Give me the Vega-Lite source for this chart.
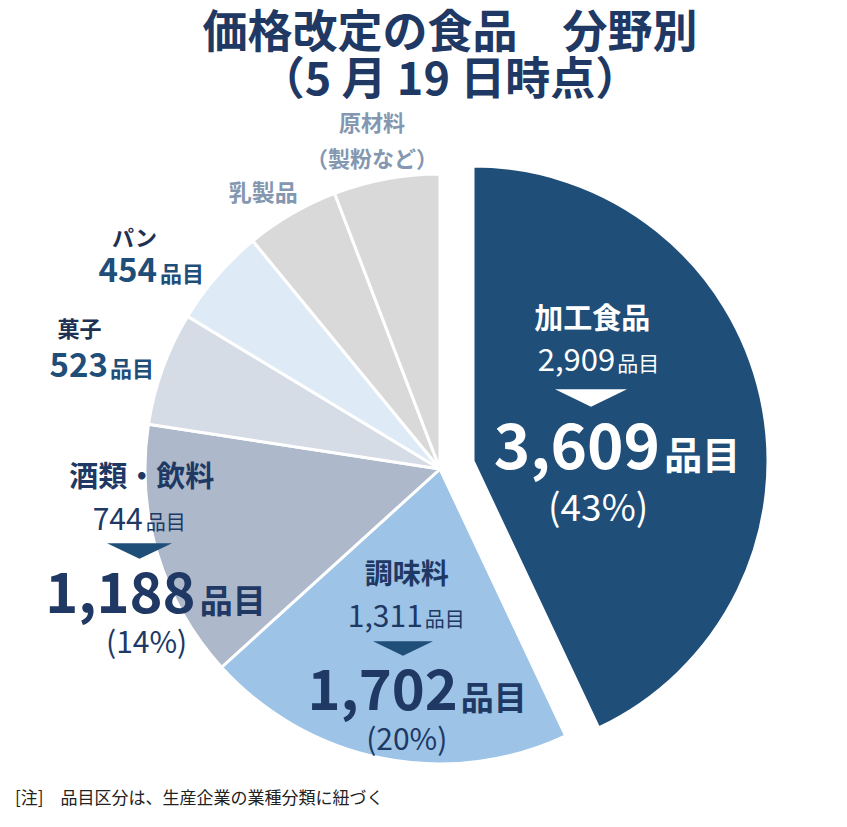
{
  "$schema": "https://vega.github.io/schema/vega-lite/v6.json",
  "padding": {"left": 15, "top": 12, "right": 0, "bottom": 3},
  "background": "white",
  "config": {"view": {"stroke": null}, "text": {"font": "Noto Sans CJK JP"}},
  "title": {
    "text": ["価格改定の食品　分野別", "（5 月 19 日時点）"],
    "font": "Noto Sans CJK JP", "fontSize": 45, "fontWeight": "bold", "color": "#203864",
    "anchor": "middle", "frame": "group", "dx": 10, "offset": 9, "lineHeight": 47
  },
  "vconcat": [
    {
      "title": {
        "text": "[注]　品目区分は、生産企業の業種分類に紐づく",
        "orient": "bottom", "anchor": "start", "frame": "group",
        "font": "Noto Sans CJK JP", "fontSize": 17, "fontWeight": "normal", "color": "#222222",
        "dx": -18, "offset": 9
      },
      "width": 814,
      "height": 626,
      "data": {
        "values": [
          {"i": 1, "cat": "加工食品", "count": 3609, "prev": 2909, "pct": "(43%)"},
          {"i": 2, "cat": "調味料", "count": 1702, "prev": 1311, "pct": "(20%)"},
          {"i": 3, "cat": "酒類・飲料", "count": 1188, "prev": 744, "pct": "(14%)"},
          {"i": 4, "cat": "菓子", "count": 523},
          {"i": 5, "cat": "パン", "count": 454},
          {"i": 6, "cat": "乳製品", "count": 430},
          {"i": 7, "cat": "原材料", "count": 488, "note": "（製粉など）"}
        ]
      },
      "layer": [
        {
          "mark": {"type": "arc", "outerRadius": 295, "stroke": "white", "strokeWidth": 3},
          "encoding": {
            "theta": {"field": "count", "type": "quantitative", "stack": true},
            "order": {"field": "i", "type": "quantitative"},
            "color": {"field": "cat", "type": "nominal", "legend": null,
              "scale": {"domain": ["加工食品", "調味料", "酒類・飲料", "菓子", "パン", "乳製品", "原材料"],
                "range": ["#1f4e79", "#9dc3e6", "#adb9ca", "#d6dce5", "#deebf7", "#d9d9d9", "#d9d9d9"]}},
            "opacity": {"condition": {"test": "datum.i === 1", "value": 0}, "value": 1}
          }
        },
        {
          "mark": {"type": "arc", "outerRadius": 295, "stroke": "white", "strokeWidth": 3, "xOffset": 33, "yOffset": -8},
          "encoding": {
            "theta": {"field": "count", "type": "quantitative", "stack": true},
            "order": {"field": "i", "type": "quantitative"},
            "color": {"field": "cat", "type": "nominal", "legend": null},
            "opacity": {"condition": {"test": "datum.i === 1", "value": 1}, "value": 0}
          }
        },
        {
          "encoding": {
            "theta": {"field": "count", "type": "quantitative", "stack": true},
            "order": {"field": "i", "type": "quantitative"},
            "detail": {"field": "cat", "type": "nominal"}
          },
          "layer": [
            {"mark": {"type": "text", "radius": 160, "dx": -4, "dy": -114, "fontSize": 29, "fontWeight": "bold", "color": "white", "align": "center", "baseline": "middle"},
             "encoding": {"text": {"condition": {"test": "datum.i === 1", "field": "cat", "type": "nominal"}, "value": ""}}},
            {"mark": {"type": "text", "radius": 160, "dx": 19, "dy": -63, "fontSize": 31, "color": "white", "align": "right", "baseline": "alphabetic"},
             "encoding": {"text": {"condition": {"test": "datum.i === 1", "field": "prev", "type": "quantitative", "format": ","}, "value": ""}}},
            {"mark": {"type": "text", "radius": 160, "dx": 21, "dy": -63, "fontSize": 21, "color": "white", "align": "left", "baseline": "alphabetic"},
             "encoding": {"text": {"condition": {"test": "datum.i === 1", "value": "品目"}, "value": ""}}},
            {"mark": {"type": "text", "radius": 160, "dx": 64, "dy": 35, "fontSize": 62, "fontWeight": "bold", "color": "white", "align": "right", "baseline": "alphabetic"},
             "encoding": {"text": {"condition": {"test": "datum.i === 1", "field": "count", "type": "quantitative", "format": ","}, "value": ""}}},
            {"mark": {"type": "text", "radius": 160, "dx": 68, "dy": 35, "fontSize": 38, "fontWeight": "bold", "color": "white", "align": "left", "baseline": "alphabetic"},
             "encoding": {"text": {"condition": {"test": "datum.i === 1", "value": "品目"}, "value": ""}}},
            {"mark": {"type": "text", "radius": 160, "dx": 2, "dy": 76, "fontSize": 37, "color": "white", "align": "center", "baseline": "middle"},
             "encoding": {"text": {"condition": {"test": "datum.i === 1", "field": "pct", "type": "nominal"}, "value": ""}}},

            {"mark": {"type": "text", "radius": 180, "dx": 2, "dy": -70, "fontSize": 28, "fontWeight": "bold", "color": "#203864", "align": "center", "baseline": "middle"},
             "encoding": {"text": {"condition": {"test": "datum.i === 2", "field": "cat", "type": "nominal"}, "value": ""}}},
            {"mark": {"type": "text", "radius": 180, "dx": 18, "dy": -18.5, "fontSize": 30, "color": "#203864", "align": "right", "baseline": "alphabetic"},
             "encoding": {"text": {"condition": {"test": "datum.i === 2", "field": "prev", "type": "quantitative", "format": ","}, "value": ""}}},
            {"mark": {"type": "text", "radius": 180, "dx": 20, "dy": -18.5, "fontSize": 20, "color": "#203864", "align": "left", "baseline": "alphabetic"},
             "encoding": {"text": {"condition": {"test": "datum.i === 2", "value": "品目"}, "value": ""}}},
            {"mark": {"type": "text", "radius": 180, "dx": 53, "dy": 64.5, "fontSize": 56, "fontWeight": "bold", "color": "#203864", "align": "right", "baseline": "alphabetic"},
             "encoding": {"text": {"condition": {"test": "datum.i === 2", "field": "count", "type": "quantitative", "format": ","}, "value": ""}}},
            {"mark": {"type": "text", "radius": 180, "dx": 56, "dy": 64.5, "fontSize": 33, "fontWeight": "bold", "color": "#203864", "align": "left", "baseline": "alphabetic"},
             "encoding": {"text": {"condition": {"test": "datum.i === 2", "value": "品目"}, "value": ""}}},
            {"mark": {"type": "text", "radius": 180, "dx": 2, "dy": 95, "fontSize": 30, "color": "#203864", "align": "center", "baseline": "middle"},
             "encoding": {"text": {"condition": {"test": "datum.i === 2", "field": "pct", "type": "nominal"}, "value": ""}}},

            {"mark": {"type": "text", "radius": 150, "dx": -154.7, "dy": -34.2, "fontSize": 29, "fontWeight": "bold", "color": "#203864", "align": "center", "baseline": "middle"},
             "encoding": {"text": {"condition": {"test": "datum.i === 3", "field": "cat", "type": "nominal"}, "value": ""}}},
            {"mark": {"type": "text", "radius": 150, "dx": -153.7, "dy": 17.8, "fontSize": 30, "color": "#203864", "align": "right", "baseline": "alphabetic"},
             "encoding": {"text": {"condition": {"test": "datum.i === 3", "field": "prev", "type": "quantitative", "format": ","}, "value": ""}}},
            {"mark": {"type": "text", "radius": 150, "dx": -150.7, "dy": 17.8, "fontSize": 20, "color": "#203864", "align": "left", "baseline": "alphabetic"},
             "encoding": {"text": {"condition": {"test": "datum.i === 3", "value": "品目"}, "value": ""}}},
            {"mark": {"type": "text", "radius": 150, "dx": -100.7, "dy": 100.8, "fontSize": 56, "fontWeight": "bold", "color": "#203864", "align": "right", "baseline": "alphabetic"},
             "encoding": {"text": {"condition": {"test": "datum.i === 3", "field": "count", "type": "quantitative", "format": ","}, "value": ""}}},
            {"mark": {"type": "text", "radius": 150, "dx": -96.7, "dy": 100.8, "fontSize": 33, "fontWeight": "bold", "color": "#203864", "align": "left", "baseline": "alphabetic"},
             "encoding": {"text": {"condition": {"test": "datum.i === 3", "value": "品目"}, "value": ""}}},
            {"mark": {"type": "text", "radius": 150, "dx": -149.7, "dy": 132, "fontSize": 30, "color": "#203864", "align": "center", "baseline": "middle"},
             "encoding": {"text": {"condition": {"test": "datum.i === 3", "field": "pct", "type": "nominal"}, "value": ""}}},

            {"mark": {"type": "text", "radius": 200, "dx": -194.6, "dy": -70.7, "fontSize": 22, "fontWeight": "bold", "color": "#203050", "align": "left", "baseline": "middle"},
             "encoding": {"text": {"condition": {"test": "datum.i === 4", "field": "cat", "type": "nominal"}, "value": ""}}},
            {"mark": {"type": "text", "radius": 200, "dx": -144, "dy": -23.7, "fontSize": 33, "fontWeight": "bold", "color": "#1f4e79", "align": "right", "baseline": "alphabetic"},
             "encoding": {"text": {"condition": {"test": "datum.i === 4", "field": "count", "type": "quantitative"}, "value": ""}}},
            {"mark": {"type": "text", "radius": 200, "dx": -142, "dy": -23.7, "fontSize": 22, "fontWeight": "bold", "color": "#1f4e79", "align": "left", "baseline": "alphabetic"},
             "encoding": {"text": {"condition": {"test": "datum.i === 4", "value": "品目"}, "value": ""}}},

            {"mark": {"type": "text", "radius": 200, "dx": -176.8, "dy": -99, "fontSize": 22, "fontWeight": "bold", "color": "#203050", "align": "left", "baseline": "middle"},
             "encoding": {"text": {"condition": {"test": "datum.i === 5", "field": "cat", "type": "nominal"}, "value": ""}}},
            {"mark": {"type": "text", "radius": 200, "dx": -131.8, "dy": -56.1, "fontSize": 33, "fontWeight": "bold", "color": "#1f4e79", "align": "right", "baseline": "alphabetic"},
             "encoding": {"text": {"condition": {"test": "datum.i === 5", "field": "count", "type": "quantitative"}, "value": ""}}},
            {"mark": {"type": "text", "radius": 200, "dx": -128.8, "dy": -56.1, "fontSize": 22, "fontWeight": "bold", "color": "#1f4e79", "align": "left", "baseline": "alphabetic"},
             "encoding": {"text": {"condition": {"test": "datum.i === 5", "value": "品目"}, "value": ""}}},

            {"mark": {"type": "text", "radius": 200, "dx": -76.3, "dy": -101.7, "fontSize": 23, "fontWeight": "bold", "color": "#8497b0", "align": "center", "baseline": "middle"},
             "encoding": {"text": {"condition": {"test": "datum.i === 6", "field": "cat", "type": "nominal"}, "value": ""}}},
            {"mark": {"type": "text", "radius": 200, "dx": -31.6, "dy": -148.3, "fontSize": 22, "fontWeight": "bold", "color": "#8497b0", "align": "center", "baseline": "middle"},
             "encoding": {"text": {"condition": {"test": "datum.i === 7", "field": "cat", "type": "nominal"}, "value": ""}}},
            {"mark": {"type": "text", "radius": 200, "dx": -31.6, "dy": -112.3, "fontSize": 22, "fontWeight": "bold", "color": "#8497b0", "align": "center", "baseline": "middle"},
             "encoding": {"text": {"condition": {"test": "datum.i === 7", "field": "note", "type": "nominal"}, "value": ""}}}
          ]
        },
        {
          "transform": [{"filter": "datum.i === 1"}],
          "mark": {"type": "point", "shape": "M-1,-0.24L1,-0.24L0,0.24Z", "size": 5184, "filled": true, "color": "white", "opacity": 1, "strokeWidth": 0, "xOffset": 151, "yOffset": -71},
          "encoding": {}
        },
        {
          "transform": [{"filter": "datum.i === 2"}],
          "mark": {"type": "point", "shape": "M-1,-0.24L1,-0.24L0,0.24Z", "size": 3600, "filled": true, "color": "#1f4e79", "opacity": 1, "strokeWidth": 0, "xOffset": -37, "yOffset": 179.5},
          "encoding": {}
        },
        {
          "transform": [{"filter": "datum.i === 3"}],
          "mark": {"type": "point", "shape": "M-1,-0.24L1,-0.24L0,0.24Z", "size": 4225, "filled": true, "color": "#1f4e79", "opacity": 1, "strokeWidth": 0, "xOffset": -300.5, "yOffset": 82},
          "encoding": {}
        }
      ]
    }
  ]
}
